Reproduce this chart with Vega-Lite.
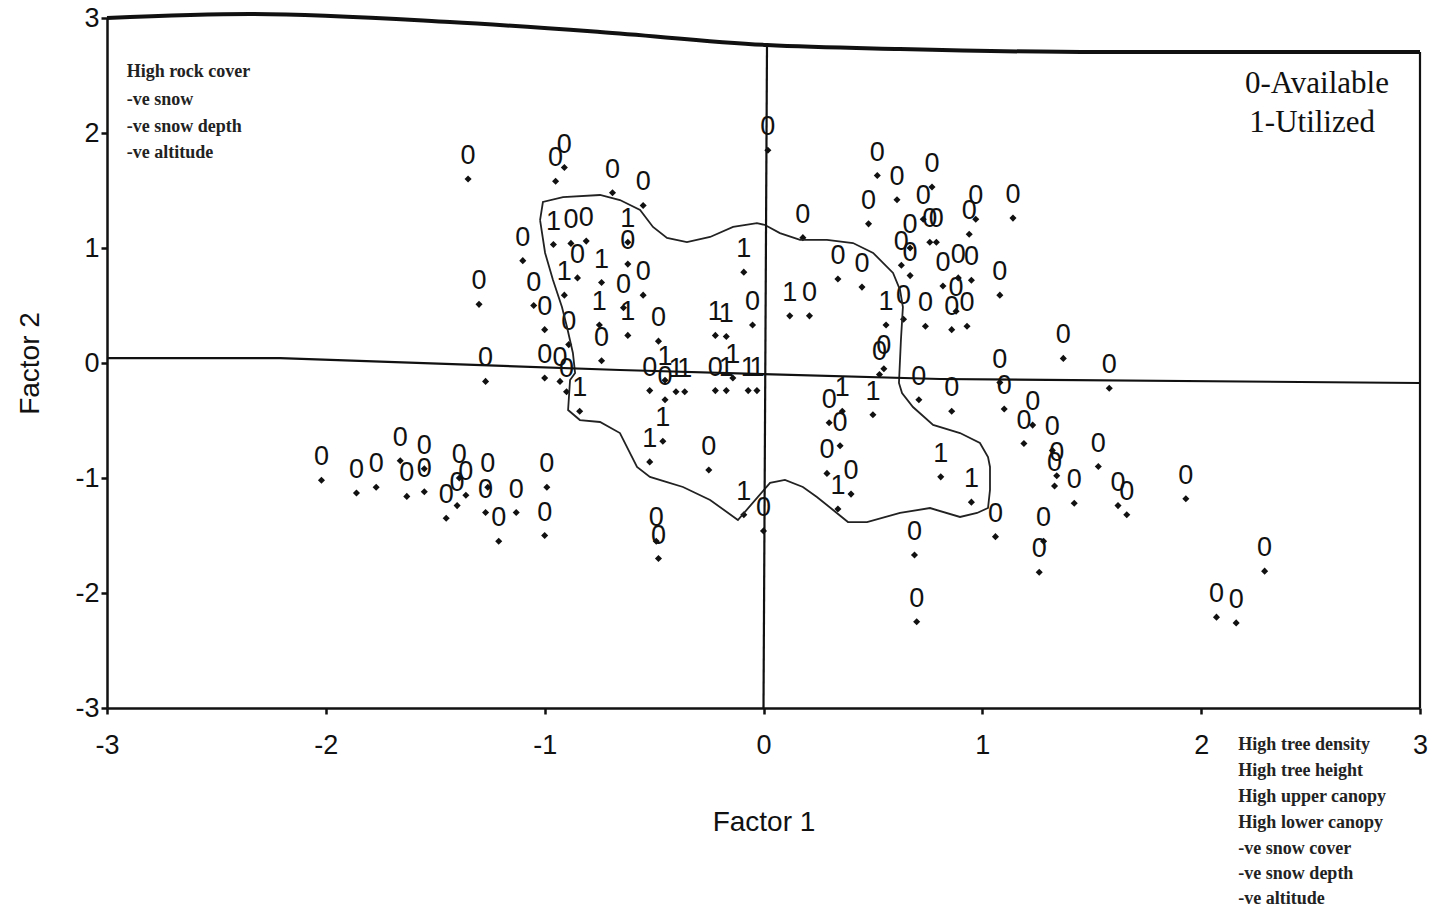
{
  "$schema": "https://vega.github.io/schema/vega-lite/v6.json",
  "width": 1313,
  "height": 690,
  "autosize": {"type": "none"},
  "padding": {"left": 107, "top": 18, "right": 27, "bottom": 210},
  "background": "white",
  "config": {
    "view": {"stroke": null},
    "axis": {
      "grid": false,
      "labelFont": "Liberation Sans",
      "labelFontSize": 27,
      "labelColor": "#111",
      "titleFont": "Liberation Sans",
      "titleFontSize": 28,
      "titleFontWeight": "normal",
      "titleColor": "#111",
      "domainColor": "#111",
      "domainWidth": 2.5,
      "tickColor": "#111",
      "tickWidth": 2.5,
      "tickSize": 6
    }
  },
  "datasets": {
    "pts": [
      {"f1": -2.02, "f2": -1.02, "lab": "0"},
      {"f1": -1.86, "f2": -1.13, "lab": "0"},
      {"f1": -1.77, "f2": -1.08, "lab": "0"},
      {"f1": -1.66, "f2": -0.85, "lab": "0"},
      {"f1": -1.55, "f2": -0.92, "lab": "0"},
      {"f1": -1.63, "f2": -1.16, "lab": "0"},
      {"f1": -1.55, "f2": -1.12, "lab": "0"},
      {"f1": -1.39, "f2": -1.00, "lab": "0"},
      {"f1": -1.36, "f2": -1.15, "lab": "0"},
      {"f1": -1.45, "f2": -1.35, "lab": "0"},
      {"f1": -1.40, "f2": -1.24, "lab": "0"},
      {"f1": -1.26, "f2": -1.08, "lab": "0"},
      {"f1": -1.27, "f2": -1.30, "lab": "0"},
      {"f1": -1.13, "f2": -1.30, "lab": "0"},
      {"f1": -1.21, "f2": -1.55, "lab": "0"},
      {"f1": -0.99, "f2": -1.08, "lab": "0"},
      {"f1": -1.00, "f2": -1.50, "lab": "0"},
      {"f1": -1.35, "f2": 1.60, "lab": "0"},
      {"f1": -0.95, "f2": 1.58, "lab": "0"},
      {"f1": -0.91, "f2": 1.70, "lab": "0"},
      {"f1": -0.69, "f2": 1.48, "lab": "0"},
      {"f1": -0.55, "f2": 1.37, "lab": "0"},
      {"f1": -0.96, "f2": 1.03, "lab": "1"},
      {"f1": -0.88, "f2": 1.04, "lab": "0"},
      {"f1": -0.81, "f2": 1.06, "lab": "0"},
      {"f1": -1.10, "f2": 0.89, "lab": "0"},
      {"f1": -0.85, "f2": 0.74, "lab": "0"},
      {"f1": -0.91, "f2": 0.59, "lab": "1"},
      {"f1": -0.74, "f2": 0.70, "lab": "1"},
      {"f1": -1.30, "f2": 0.51, "lab": "0"},
      {"f1": -1.05, "f2": 0.50, "lab": "0"},
      {"f1": -1.00, "f2": 0.29, "lab": "0"},
      {"f1": -0.89, "f2": 0.16, "lab": "0"},
      {"f1": -0.75, "f2": 0.33, "lab": "1"},
      {"f1": -0.74, "f2": 0.02, "lab": "0"},
      {"f1": -1.27, "f2": -0.16, "lab": "0"},
      {"f1": -1.00, "f2": -0.13, "lab": "0"},
      {"f1": -0.93, "f2": -0.16, "lab": "0"},
      {"f1": -0.90, "f2": -0.25, "lab": "0"},
      {"f1": -0.84, "f2": -0.42, "lab": "1"},
      {"f1": -0.62, "f2": 1.05, "lab": "1"},
      {"f1": -0.62, "f2": 0.86, "lab": "0"},
      {"f1": -0.55, "f2": 0.59, "lab": "0"},
      {"f1": -0.64, "f2": 0.48, "lab": "0"},
      {"f1": -0.62, "f2": 0.24, "lab": "1"},
      {"f1": -0.48, "f2": 0.19, "lab": "0"},
      {"f1": -0.52, "f2": -0.24, "lab": "0"},
      {"f1": -0.45, "f2": -0.15, "lab": "1"},
      {"f1": -0.45, "f2": -0.32, "lab": "0"},
      {"f1": -0.40, "f2": -0.25, "lab": "1"},
      {"f1": -0.36, "f2": -0.25, "lab": "1"},
      {"f1": -0.22, "f2": 0.24, "lab": "1"},
      {"f1": -0.17, "f2": 0.23, "lab": "1"},
      {"f1": -0.14, "f2": -0.13, "lab": "1"},
      {"f1": -0.22, "f2": -0.24, "lab": "0"},
      {"f1": -0.17, "f2": -0.24, "lab": "1"},
      {"f1": -0.07, "f2": -0.24, "lab": "1"},
      {"f1": -0.03, "f2": -0.24, "lab": "1"},
      {"f1": -0.09, "f2": 0.79, "lab": "1"},
      {"f1": -0.05, "f2": 0.33, "lab": "0"},
      {"f1": 0.02, "f2": 1.85, "lab": "0"},
      {"f1": 0.18, "f2": 1.09, "lab": "0"},
      {"f1": 0.12, "f2": 0.41, "lab": "1"},
      {"f1": 0.21, "f2": 0.41, "lab": "0"},
      {"f1": 0.34, "f2": 0.73, "lab": "0"},
      {"f1": 0.45, "f2": 0.66, "lab": "0"},
      {"f1": 0.52, "f2": 1.63, "lab": "0"},
      {"f1": 0.61, "f2": 1.42, "lab": "0"},
      {"f1": 0.48, "f2": 1.21, "lab": "0"},
      {"f1": 0.56, "f2": 0.33, "lab": "1"},
      {"f1": 0.64, "f2": 0.38, "lab": "0"},
      {"f1": 0.74, "f2": 0.32, "lab": "0"},
      {"f1": 0.53, "f2": -0.10, "lab": "0"},
      {"f1": 0.55, "f2": -0.05, "lab": "0"},
      {"f1": 0.50, "f2": -0.45, "lab": "1"},
      {"f1": 0.71, "f2": -0.32, "lab": "0"},
      {"f1": 0.77, "f2": 1.53, "lab": "0"},
      {"f1": 0.73, "f2": 1.25, "lab": "0"},
      {"f1": 0.76, "f2": 1.05, "lab": "0"},
      {"f1": 0.79, "f2": 1.05, "lab": "0"},
      {"f1": 0.67, "f2": 1.00, "lab": "0"},
      {"f1": 0.63, "f2": 0.85, "lab": "0"},
      {"f1": 0.67, "f2": 0.76, "lab": "0"},
      {"f1": 0.94, "f2": 1.12, "lab": "0"},
      {"f1": 0.97, "f2": 1.25, "lab": "0"},
      {"f1": 1.14, "f2": 1.26, "lab": "0"},
      {"f1": 0.82, "f2": 0.67, "lab": "0"},
      {"f1": 0.89, "f2": 0.74, "lab": "0"},
      {"f1": 0.95, "f2": 0.72, "lab": "0"},
      {"f1": 0.88, "f2": 0.45, "lab": "0"},
      {"f1": 0.93, "f2": 0.32, "lab": "0"},
      {"f1": 0.86, "f2": 0.29, "lab": "0"},
      {"f1": 1.08, "f2": 0.59, "lab": "0"},
      {"f1": 1.37, "f2": 0.04, "lab": "0"},
      {"f1": 1.58, "f2": -0.22, "lab": "0"},
      {"f1": 1.08, "f2": -0.17, "lab": "0"},
      {"f1": 1.10, "f2": -0.40, "lab": "0"},
      {"f1": 0.86, "f2": -0.42, "lab": "0"},
      {"f1": 1.19, "f2": -0.70, "lab": "0"},
      {"f1": 1.23, "f2": -0.54, "lab": "0"},
      {"f1": 1.32, "f2": -0.76, "lab": "0"},
      {"f1": 1.33, "f2": -1.07, "lab": "0"},
      {"f1": 1.34, "f2": -0.98, "lab": "0"},
      {"f1": 1.42, "f2": -1.22, "lab": "0"},
      {"f1": 1.53, "f2": -0.90, "lab": "0"},
      {"f1": 1.62, "f2": -1.24, "lab": "0"},
      {"f1": 1.66, "f2": -1.32, "lab": "0"},
      {"f1": 1.93, "f2": -1.18, "lab": "0"},
      {"f1": 0.81, "f2": -0.99, "lab": "1"},
      {"f1": 0.95, "f2": -1.21, "lab": "1"},
      {"f1": 1.06, "f2": -1.51, "lab": "0"},
      {"f1": 0.69, "f2": -1.67, "lab": "0"},
      {"f1": 1.26, "f2": -1.82, "lab": "0"},
      {"f1": 1.28, "f2": -1.55, "lab": "0"},
      {"f1": 2.29, "f2": -1.81, "lab": "0"},
      {"f1": 0.70, "f2": -2.25, "lab": "0"},
      {"f1": 2.07, "f2": -2.21, "lab": "0"},
      {"f1": 2.16, "f2": -2.26, "lab": "0"},
      {"f1": -0.46, "f2": -0.68, "lab": "1"},
      {"f1": -0.52, "f2": -0.86, "lab": "1"},
      {"f1": -0.25, "f2": -0.93, "lab": "0"},
      {"f1": -0.49, "f2": -1.55, "lab": "0"},
      {"f1": -0.48, "f2": -1.70, "lab": "0"},
      {"f1": -0.09, "f2": -1.32, "lab": "1"},
      {"f1": 0.00, "f2": -1.46, "lab": "0"},
      {"f1": 0.30, "f2": -0.52, "lab": "0"},
      {"f1": 0.35, "f2": -0.72, "lab": "0"},
      {"f1": 0.29, "f2": -0.96, "lab": "0"},
      {"f1": 0.40, "f2": -1.14, "lab": "0"},
      {"f1": 0.34, "f2": -1.27, "lab": "1"},
      {"f1": 0.36, "f2": -0.42, "lab": "1"}
    ],
    "contour": [
      {"i": 0, "x": -1.021, "y": 1.243},
      {"i": 1, "x": -1.008, "y": 1.400},
      {"i": 2, "x": -0.916, "y": 1.443},
      {"i": 3, "x": -0.747, "y": 1.461},
      {"i": 4, "x": -0.656, "y": 1.417},
      {"i": 5, "x": -0.564, "y": 1.330},
      {"i": 6, "x": -0.505, "y": 1.183},
      {"i": 7, "x": -0.441, "y": 1.087},
      {"i": 8, "x": -0.350, "y": 1.052},
      {"i": 9, "x": -0.244, "y": 1.096},
      {"i": 10, "x": -0.139, "y": 1.183},
      {"i": 11, "x": -0.030, "y": 1.217},
      {"i": 12, "x": 0.007, "y": 1.200},
      {"i": 13, "x": 0.075, "y": 1.130},
      {"i": 14, "x": 0.167, "y": 1.070},
      {"i": 15, "x": 0.290, "y": 1.070},
      {"i": 16, "x": 0.409, "y": 1.043},
      {"i": 17, "x": 0.501, "y": 0.957},
      {"i": 18, "x": 0.592, "y": 0.783},
      {"i": 19, "x": 0.624, "y": 0.635},
      {"i": 20, "x": 0.637, "y": 0.487},
      {"i": 21, "x": 0.628, "y": 0.200},
      {"i": 22, "x": 0.619, "y": -0.174},
      {"i": 23, "x": 0.633, "y": -0.261},
      {"i": 24, "x": 0.683, "y": -0.383},
      {"i": 25, "x": 0.775, "y": -0.539},
      {"i": 26, "x": 0.898, "y": -0.609},
      {"i": 27, "x": 0.989, "y": -0.696},
      {"i": 28, "x": 1.026, "y": -0.817},
      {"i": 29, "x": 1.035, "y": -0.904},
      {"i": 30, "x": 1.035, "y": -1.104},
      {"i": 31, "x": 1.026, "y": -1.261},
      {"i": 32, "x": 0.976, "y": -1.304},
      {"i": 33, "x": 0.898, "y": -1.339},
      {"i": 34, "x": 0.761, "y": -1.261},
      {"i": 35, "x": 0.624, "y": -1.304},
      {"i": 36, "x": 0.473, "y": -1.383},
      {"i": 37, "x": 0.386, "y": -1.383},
      {"i": 38, "x": 0.318, "y": -1.278},
      {"i": 39, "x": 0.244, "y": -1.165},
      {"i": 40, "x": 0.180, "y": -1.078},
      {"i": 41, "x": 0.098, "y": -1.017},
      {"i": 42, "x": 0.030, "y": -1.043},
      {"i": 43, "x": -0.117, "y": -1.365},
      {"i": 44, "x": -0.244, "y": -1.191},
      {"i": 45, "x": -0.368, "y": -1.078},
      {"i": 46, "x": -0.441, "y": -1.035},
      {"i": 47, "x": -0.519, "y": -0.991},
      {"i": 48, "x": -0.578, "y": -0.904},
      {"i": 49, "x": -0.656, "y": -0.609},
      {"i": 50, "x": -0.747, "y": -0.513},
      {"i": 51, "x": -0.839, "y": -0.496},
      {"i": 52, "x": -0.893, "y": -0.409},
      {"i": 53, "x": -0.884, "y": -0.148},
      {"i": 54, "x": -0.861, "y": -0.087},
      {"i": 55, "x": -0.871, "y": 0.087},
      {"i": 56, "x": -0.898, "y": 0.313},
      {"i": 57, "x": -0.921, "y": 0.487},
      {"i": 58, "x": -0.962, "y": 0.722},
      {"i": 59, "x": -0.998, "y": 0.957},
      {"i": 60, "x": -1.021, "y": 1.243}
    ],
    "border": [
      {"i": 0, "x": -3.0, "y": 3.0},
      {"i": 1, "x": -2.347, "y": 3.035},
      {"i": 2, "x": -1.433, "y": 2.965},
      {"i": 3, "x": -0.747, "y": 2.878},
      {"i": 4, "x": 0.016, "y": 2.765},
      {"i": 5, "x": 0.624, "y": 2.73},
      {"i": 6, "x": 1.538, "y": 2.704},
      {"i": 7, "x": 3.0, "y": 2.704}
    ],
    "guides": [
      {"id": "h0", "i": 0, "x": -3.0, "y": 0.043},
      {"id": "h0", "i": 1, "x": -2.209, "y": 0.043},
      {"id": "h0", "i": 2, "x": -0.656, "y": -0.061},
      {"id": "h0", "i": 3, "x": 0.0, "y": -0.096},
      {"id": "h0", "i": 4, "x": 0.807, "y": -0.139},
      {"id": "h0", "i": 5, "x": 3.0, "y": -0.174},
      {"id": "v0", "i": 0, "x": 0.016, "y": 2.765},
      {"id": "v0", "i": 1, "x": 0.0, "y": -3.0},
      {"id": "r", "i": 0, "x": 3.0, "y": 2.704},
      {"id": "r", "i": 1, "x": 3.0, "y": -3.0}
    ],
    "notes": [
      {"x": -2.91, "y": 2.53, "t": "High rock cover"},
      {"x": -2.91, "y": 2.29, "t": "-ve snow"},
      {"x": -2.91, "y": 2.05, "t": "-ve snow depth"},
      {"x": -2.91, "y": 1.83, "t": "-ve altitude"},
      {"x": 2.17, "y": -3.32, "t": "High tree density"},
      {"x": 2.17, "y": -3.55, "t": "High tree height"},
      {"x": 2.17, "y": -3.77, "t": "High upper canopy"},
      {"x": 2.17, "y": -4.0, "t": "High lower canopy"},
      {"x": 2.17, "y": -4.23, "t": "-ve snow cover"},
      {"x": 2.17, "y": -4.44, "t": "-ve snow depth"},
      {"x": 2.17, "y": -4.66, "t": "-ve altitude"}
    ],
    "key": [
      {"x": 2.2, "y": 2.43, "t": "0-Available"},
      {"x": 2.22, "y": 2.09, "t": "1-Utilized"}
    ]
  },
  "layer": [
    {
      "data": {"name": "pts"},
      "mark": {"type": "point", "shape": "diamond", "filled": true, "color": "#111", "size": 50, "opacity": 1},
      "encoding": {
        "x": {"field": "f1", "type": "quantitative", "scale": {"domain": [-3, 3], "nice": false, "zero": false},
              "axis": {"values": [-3, -2, -1, 0, 1, 2, 3], "title": "Factor 1", "labelPadding": 18, "titlePadding": 50, "labelFlush": false,
                       "labelExpr": "datum.value < 0 ? '-' + abs(datum.value) : '' + datum.value"}},
        "y": {"field": "f2", "type": "quantitative", "scale": {"domain": [-3, 3], "nice": false, "zero": false},
              "axis": {"values": [-3, -2, -1, 0, 1, 2, 3], "title": "Factor 2", "labelPadding": 2, "titlePadding": 30, "labelFlush": false,
                       "labelExpr": "datum.value < 0 ? '-' + abs(datum.value) : '' + datum.value"}}
      }
    },
    {
      "data": {"name": "pts"},
      "mark": {"type": "text", "font": "Liberation Sans", "fontSize": 27, "color": "#111", "dy": -23, "align": "center", "baseline": "middle"},
      "encoding": {
        "x": {"field": "f1", "type": "quantitative"},
        "y": {"field": "f2", "type": "quantitative"},
        "text": {"field": "lab"}
      }
    },
    {
      "data": {"name": "contour"},
      "mark": {"type": "line", "color": "#222", "strokeWidth": 1.8, "interpolate": "linear"},
      "encoding": {
        "x": {"field": "x", "type": "quantitative"},
        "y": {"field": "y", "type": "quantitative"},
        "order": {"field": "i", "type": "quantitative"}
      }
    },
    {
      "data": {"name": "border"},
      "mark": {"type": "line", "color": "#111", "strokeWidth": 4, "interpolate": "monotone"},
      "encoding": {
        "x": {"field": "x", "type": "quantitative"},
        "y": {"field": "y", "type": "quantitative"},
        "order": {"field": "i", "type": "quantitative"}
      }
    },
    {
      "data": {"name": "guides"},
      "mark": {"type": "line", "color": "#111", "strokeWidth": 2.2},
      "encoding": {
        "x": {"field": "x", "type": "quantitative"},
        "y": {"field": "y", "type": "quantitative"},
        "detail": {"field": "id"},
        "order": {"field": "i", "type": "quantitative"}
      }
    },
    {
      "data": {"name": "notes"},
      "mark": {"type": "text", "font": "Liberation Serif", "fontSize": 18, "fontWeight": "bold", "color": "#222", "align": "left", "baseline": "middle"},
      "encoding": {
        "x": {"field": "x", "type": "quantitative"},
        "y": {"field": "y", "type": "quantitative"},
        "text": {"field": "t"}
      }
    },
    {
      "data": {"name": "key"},
      "mark": {"type": "text", "font": "Liberation Serif", "fontSize": 31, "color": "#111", "align": "left", "baseline": "middle"},
      "encoding": {
        "x": {"field": "x", "type": "quantitative"},
        "y": {"field": "y", "type": "quantitative"},
        "text": {"field": "t"}
      }
    }
  ]
}
